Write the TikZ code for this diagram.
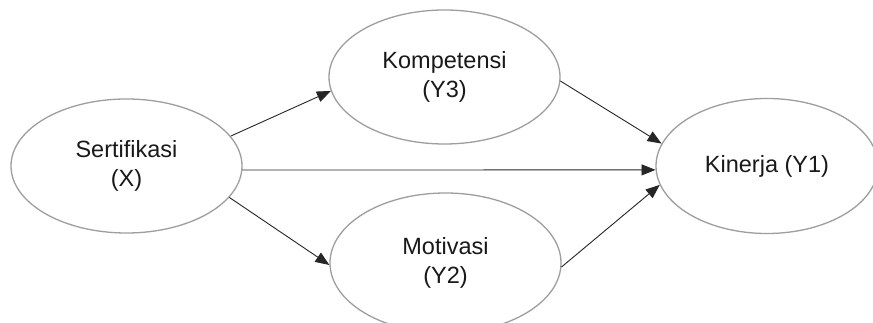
\documentclass[tikz,border=0pt]{standalone}
\usepackage{fontspec}
\setmainfont{Liberation Sans}
\usetikzlibrary{shapes.geometric,arrows.meta}
\begin{document}
\begin{tikzpicture}[x=1pt,y=1pt,
  ell/.style={ellipse, draw=black!38, line width=1.3pt, fill=white, inner sep=0pt, align=center, font=\fontsize{23.5}{29}\selectfont, text=black!90},
  arr/.style={draw=black!85, line width=0.9pt, -{Triangle[length=14pt,width=11pt]}}]
\useasboundingbox (0,0) rectangle (873,323);
\clip (0,0) rectangle (873,323);
\fill[white] (0,0) rectangle (873,323);
\node[ell, minimum width=231pt, minimum height=134pt] (s) at (126.5,157) {Sertifikasi\\(X)};
\node[ell, minimum width=231pt, minimum height=134pt] (k) at (444.5,246) {Kompetensi\\(Y3)};
\node[ell, minimum width=231pt, minimum height=140pt] (m) at (445.5,60) {Motivasi\\(Y2)};
\node[ell, minimum width=222pt, minimum height=135pt] (kin) at (767,157) {Kinerja (Y1)};
\draw[arr] (s.16.5) -- (k.187.5);
\draw[arr] (s.-2) -- (kin.182);
\draw[arr] (s.-17.5) -- (m.181);
\draw[arr] (k.-2) -- (kin.168.5);
\draw[arr] (m.-2) -- (kin.190);
\end{tikzpicture}
\end{document}
